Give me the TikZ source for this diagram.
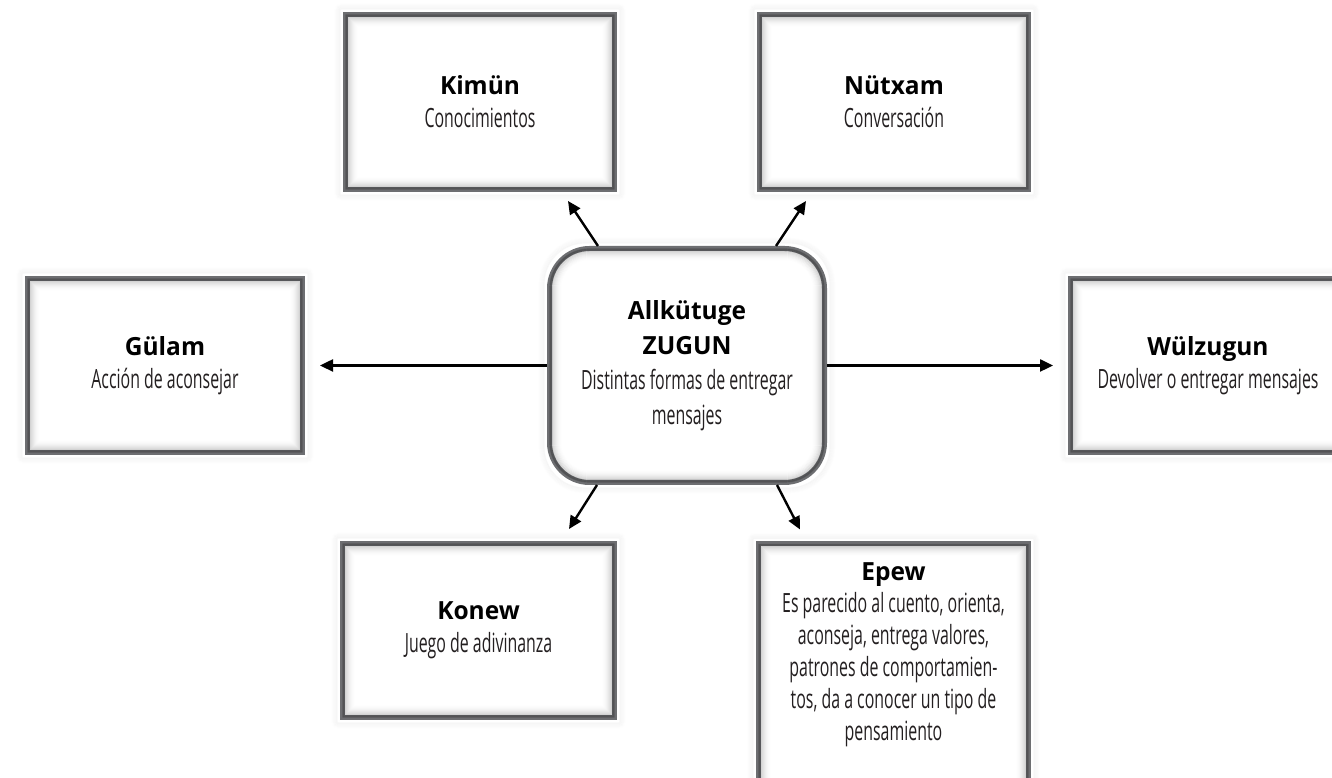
\documentclass[tikz,border=0pt]{standalone}
\usepackage{fontspec}
\setmainfont{Open Sans}
\newfontfamily\bodyfont[FakeStretch=0.6]{Open Sans}
\newfontfamily\headfont[FakeStretch=0.98]{Open Sans}
\usetikzlibrary{arrows.meta,calc}

\definecolor{frame}{HTML}{6D6E71}
\definecolor{ink}{HTML}{231F20}
\newcommand\hd[1]{{\headfont\bfseries\fontsize{25}{33}\selectfont\color{black}#1}}

% soft shading just inside and outside a box border
\newcommand\boxglow[2]{%
  \foreach \i in {1,...,13}{%
    \pgfmathsetmacro\op{0.24*(1-\i/14)^2}%
    \pgfmathsetmacro\rc{max(#2-\i,0.01)}%
    \draw[black,opacity=\op,line width=1.2pt,rounded corners=\rc pt]
      ([shift={(2+\i,-2-\i)}]#1.north west) rectangle ([shift={(-2-\i,2+\i)}]#1.south east);}%
  \foreach \i in {1,...,6}{%
    \pgfmathsetmacro\op{0.035*(1-\i/7)}%
    \pgfmathsetmacro\rc{#2+\i}%
    \draw[black,opacity=\op,line width=1.2pt,rounded corners=\rc pt]
      ([shift={(-2-\i,2+\i)}]#1.north west) rectangle ([shift={(2+\i,-2-\i)}]#1.south east);}%
}

\begin{document}
\begin{tikzpicture}[x=1pt,y=1pt,
  box/.style={draw=frame,line width=5pt,fill=white,align=center,text=ink,
    font=\bodyfont\fontsize{26.5}{33}\selectfont,inner sep=0pt},
  hub/.style={box,rounded corners=40pt,font=\bodyfont\fontsize{26.5}{35}\selectfont},
  txt/.style={align=center,text=ink,font=\bodyfont\fontsize{26.5}{32}\selectfont,inner sep=0pt},
  link/.style={line width=2.4pt,-{Triangle[length=13pt,width=12pt]}}]
\useasboundingbox (0,0) rectangle (1332,778);
\clip (0,0) rectangle (1332,778);

\node[hub,minimum width=275pt,minimum height=234pt] (c) at (687,412.5)
  {\hd{Allkütuge}\\\hd{ZUGUN}\\Distintas formas de entregar\\mensajes};
\node[box,minimum width=269pt,minimum height=175pt] (kim) at (480,676)
  {\hd{Kimün}\\Conocimientos};
\node[box,minimum width=269pt,minimum height=175pt] (nut) at (894,676)
  {\hd{Nütxam}\\Conversación};
\node[box,minimum width=275pt,minimum height=174pt] (gul) at (165,412.5)
  {\hd{Gülam}\\Acción de aconsejar};
\node[box,minimum width=275pt,minimum height=174pt] (wul) at (1208,412.5)
  {\hd{Wülzugun}\\Devolver o entregar mensajes};
\node[box,minimum width=272pt,minimum height=174pt] (kon) at (478.5,147.5)
  {\hd{Konew}\\Juego de adivinanza};
\node[box,minimum width=270pt,minimum height=260pt] (epe) at (893.5,104) {};
\node[txt] (epeT) at (893.5,123)
  {\hd{Epew}\\Es parecido al cuento, orienta,\\aconseja, entrega valores,\\patrones de comportamien-\\tos, da a conocer un tipo de\\pensamiento};

\boxglow{c}{40}
\boxglow{kim}{0}
\boxglow{nut}{0}
\boxglow{gul}{0}
\boxglow{wul}{0}
\boxglow{kon}{0}
\boxglow{epe}{0}

\draw[link] ([xshift=-89pt]c.north) -- ([xshift=88pt,yshift=-9pt]kim.south);
\draw[link] ([xshift=89pt]c.north) -- ([xshift=-88pt,yshift=-9pt]nut.south);
\draw[link] (c.west) -- ([xshift=15pt]gul.east);
\draw[link] (c.east) -- ([xshift=-15pt]wul.west);
\draw[link] ([xshift=-90pt]c.south) -- ([xshift=90.5pt,yshift=12pt]kon.north);
\draw[link] ([xshift=90pt]c.south) -- ([xshift=-93.5pt,yshift=12pt]epe.north);
\end{tikzpicture}
\end{document}
